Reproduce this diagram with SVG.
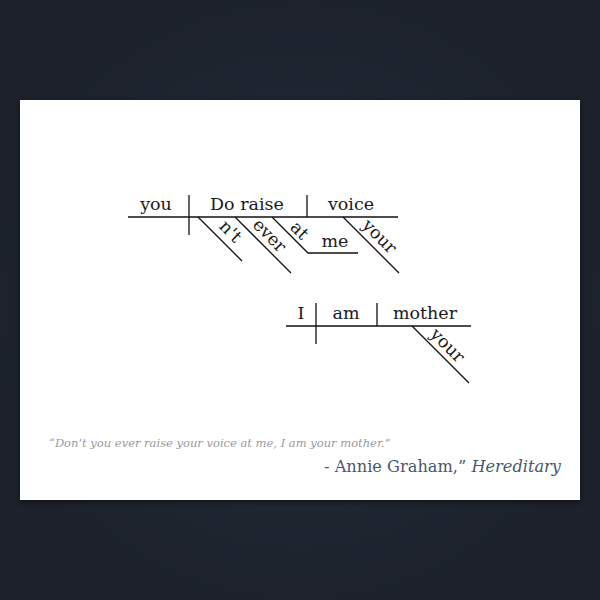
<svg xmlns="http://www.w3.org/2000/svg" width="600" height="600" viewBox="0 0 600 600">
<defs>
<radialGradient id="bg" cx="300" cy="300" r="330" gradientUnits="userSpaceOnUse">
<stop offset="0" stop-color="#273342"/>
<stop offset="0.6" stop-color="#1f2631"/>
<stop offset="1" stop-color="#1c212b"/>
</radialGradient>
<filter id="sh" x="-10%" y="-10%" width="120%" height="120%">
<feDropShadow dx="0" dy="2" stdDeviation="3" flood-color="#000" flood-opacity="0.5"/>
</filter>
<style>
.ln{stroke:#111;stroke-width:1.3;fill:none;stroke-linecap:butt}
.w{font-family:"DejaVu Serif","Liberation Serif",serif;font-size:17.5px;fill:#1a1a1a;text-anchor:middle}
.q{font-family:"DejaVu Serif","Liberation Serif",serif;font-style:italic;font-size:11.5px;fill:#9a9a9a}
.a{font-family:"DejaVu Serif","Liberation Serif",serif;font-size:16.2px;fill:#4a566a}
</style>
</defs>
<rect width="600" height="600" fill="url(#bg)"/>
<rect x="20" y="100" width="560" height="400" fill="#fff" filter="url(#sh)"/>
<g id="connectors">
<line class="ln" x1="128" y1="217" x2="398" y2="217"/>
<line class="ln" x1="189" y1="195" x2="189" y2="235"/>
<line class="ln" x1="307" y1="195" x2="307" y2="217"/>
<line class="ln" x1="198" y1="217" x2="242" y2="261"/>
<line class="ln" x1="235" y1="217" x2="291" y2="273"/>
<polyline class="ln" points="272,217 308,253 358,253"/>
<line class="ln" x1="343" y1="217" x2="399" y2="273"/>
<line class="ln" x1="286" y1="326" x2="471" y2="326"/>
<line class="ln" x1="316" y1="303" x2="316" y2="344"/>
<line class="ln" x1="377" y1="303" x2="377" y2="326"/>
<line class="ln" x1="412" y1="326" x2="469" y2="383"/>
</g>
<g id="n-you"><text class="w" x="156" y="210">you</text></g>
<g id="n-doraise"><text class="w" x="247" y="210">Do raise</text></g>
<g id="n-voice"><text class="w" x="351" y="210">voice</text></g>
<g id="n-nt"><text class="w" transform="translate(230,232) rotate(45)" dy="5">n't</text></g>
<g id="n-ever"><text class="w" transform="translate(269,236) rotate(45)" dy="5">ever</text></g>
<g id="n-at"><text class="w" transform="translate(299,231) rotate(45)" dy="5">at</text></g>
<g id="n-me"><text class="w" x="335" y="247">me</text></g>
<g id="n-your1"><text class="w" transform="translate(379,237) rotate(45)" dy="5">your</text></g>
<g id="n-I"><text class="w" x="301" y="319">I</text></g>
<g id="n-am"><text class="w" x="346" y="319">am</text></g>
<g id="n-mother"><text class="w" x="425" y="319">mother</text></g>
<g id="n-your2"><text class="w" transform="translate(447,346) rotate(45)" dy="5">your</text></g>
<g id="quote">
<text class="q" x="49" y="447">“Don’t you ever raise your voice at me, I am your mother.”</text>
<text class="a" x="561" y="472" text-anchor="end">- Annie Graham,” <tspan font-style="italic">Hereditary</tspan></text>
</g>
</svg>
